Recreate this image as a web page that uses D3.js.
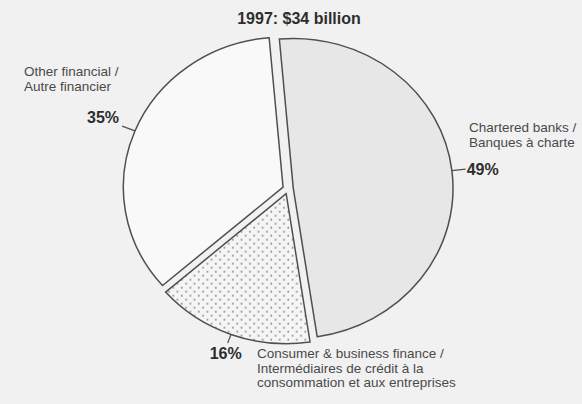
<!DOCTYPE html>
<html>
<head>
<meta charset="utf-8">
<script src="https://cdn.jsdelivr.net/npm/d3@7"></script>
<style>
  html, body { margin: 0; padding: 0; background: #f1f1f1; }
  svg { display: block; }
  text { font-family: "Liberation Sans", Arial, Helvetica, sans-serif; }
</style>
</head>
<body>
<svg id="chart" width="582" height="404"></svg>
<script>
// 1997 financing: share of total ($34 billion) by lender type
const title = "1997: $34 billion";
const categories = ["Chartered banks", "Consumer & business finance", "Other financial"];
const shares = [49, 16, 35];
const percentLabels = ["49%", "16%", "35%"];
const nameLines = [
  ["Chartered banks /", "Banques à charte"],
  ["Consumer & business finance /", "Intermédiaires de crédit à la", "consommation et aux entreprises"],
  ["Other financial /", "Autre financier"]
];

const W = 582, H = 404;
const cx = 288, cy = 189, R = 150;
const sx = 1.065;          // slight horizontal widening of the pie
const explode = 5;         // distance each wedge is pulled out from the centre
const rot = -5 * Math.PI / 180;

const svg = d3.select("#chart");

// stipple pattern for the consumer wedge
const defs = svg.append("defs");
const pat = defs.append("pattern")
  .attr("id", "dots").attr("patternUnits", "userSpaceOnUse")
  .attr("width", 8).attr("height", 8);
pat.append("rect").attr("width", 8).attr("height", 8).attr("fill", "#f5f5f5");
pat.append("circle").attr("cx", 2).attr("cy", 2).attr("r", 0.9).attr("fill", "#8a8a8a");
pat.append("circle").attr("cx", 6).attr("cy", 6).attr("r", 0.9).attr("fill", "#8a8a8a");

const fills = ["#e7e7e7", "url(#dots)", "#f9f9f9"];

svg.append("rect").attr("width", W).attr("height", H).attr("fill", "#f1f1f1");

const pie = d3.pie().sort(null).startAngle(rot).endAngle(rot + 2 * Math.PI);
const arcs = pie(shares);
const arc = d3.arc().innerRadius(0).outerRadius(R);

const slices = svg.selectAll("g.slice")
  .data(arcs)
  .join("g")
  .attr("class", "slice")
  .attr("transform", d => {
    const m = (d.startAngle + d.endAngle) / 2;
    const ox = cx + sx * explode * Math.sin(m);
    const oy = cy - explode * Math.cos(m);
    return `translate(${ox},${oy}) scale(${sx},1)`;
  });

slices.append("path")
  .attr("d", arc)
  .attr("fill", (d, i) => fills[i])
  .attr("stroke", "#4f4f4f")
  .attr("stroke-width", 1.5)
  .attr("stroke-linejoin", "miter")
  .attr("vector-effect", "non-scaling-stroke");

// radial leader ticks at each wedge's mid-angle
const leaderLen = [13, 9, 13];
slices.append("line")
  .attr("x1", d => R * Math.sin((d.startAngle + d.endAngle) / 2))
  .attr("y1", d => -R * Math.cos((d.startAngle + d.endAngle) / 2))
  .attr("x2", (d, i) => (R + leaderLen[i]) * Math.sin((d.startAngle + d.endAngle) / 2))
  .attr("y2", (d, i) => -(R + leaderLen[i]) * Math.cos((d.startAngle + d.endAngle) / 2))
  .attr("stroke", "#4f4f4f")
  .attr("stroke-width", 1.2)
  .attr("vector-effect", "non-scaling-stroke");

// leader end points in page coordinates
function leaderEnd(d, i) {
  const m = (d.startAngle + d.endAngle) / 2;
  const ox = cx + sx * explode * Math.sin(m);
  const oy = cy - explode * Math.cos(m);
  return [ox + sx * (R + leaderLen[i]) * Math.sin(m), oy - (R + leaderLen[i]) * Math.cos(m)];
}

// title
svg.append("text")
  .attr("x", 299).attr("y", 24)
  .attr("text-anchor", "middle")
  .attr("font-size", 16).attr("font-weight", "bold")
  .attr("fill", "#2e2e2e")
  .text(title);

// percentage labels next to the leader ends
const pctPos = [
  (e) => ({ x: e[0] + 1, y: e[1] + 6, anchor: "start" }),
  (e) => ({ x: e[0] - 2, y: e[1] + 16, anchor: "middle" }),
  (e) => ({ x: e[0] - 3, y: e[1] - 3, anchor: "end" })
];
arcs.forEach((d, i) => {
  const p = pctPos[i](leaderEnd(d, i));
  svg.append("text")
    .attr("x", p.x).attr("y", p.y)
    .attr("text-anchor", p.anchor)
    .attr("font-size", 16).attr("font-weight", "bold")
    .attr("fill", "#2e2e2e")
    .text(percentLabels[i]);
});

// category names (English / French)
const namePos = [
  { x: 469, y: 132 },
  { x: 257, y: 358 },
  { x: 24, y: 76 }
];
nameLines.forEach((lines, i) => {
  const t = svg.append("text")
    .attr("x", namePos[i].x).attr("y", namePos[i].y)
    .attr("font-size", 13.5)
    .attr("fill", "#4a4a4a");
  lines.forEach((s, j) => {
    t.append("tspan")
      .attr("x", namePos[i].x)
      .attr("dy", j === 0 ? 0 : 14.5)
      .text(s);
  });
});
</script>
</body>
</html>
